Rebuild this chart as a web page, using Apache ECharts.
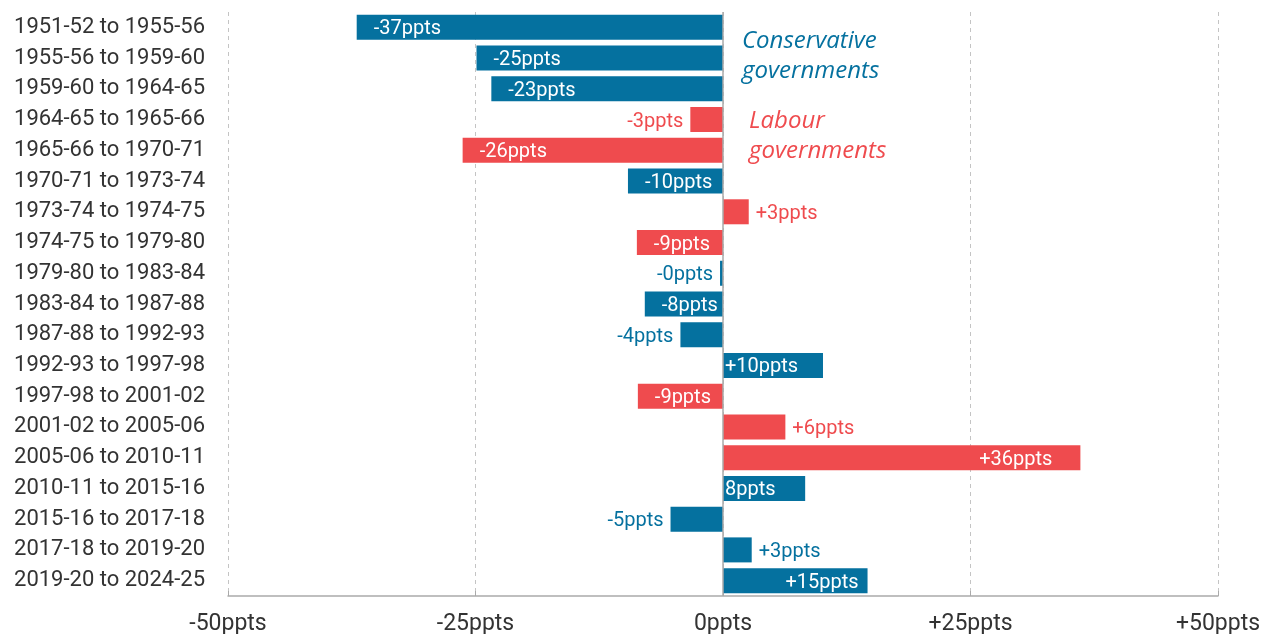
<!DOCTYPE html>
<html>
<head>
<meta charset="utf-8">
<style>
  html, body { margin: 0; padding: 0; background: #fff; }
  #chart { width: 1273px; height: 634px; }
</style>
<script src="https://cdn.jsdelivr.net/npm/echarts@6/dist/echarts.min.js"></script>
</head>
<body>
<div id="chart"></div>
<script>
// Periods between spending reviews / parliaments
const periods = [
  '1951-52 to 1955-56', '1955-56 to 1959-60', '1959-60 to 1964-65',
  '1964-65 to 1965-66', '1965-66 to 1970-71', '1970-71 to 1973-74',
  '1973-74 to 1974-75', '1974-75 to 1979-80', '1979-80 to 1983-84',
  '1983-84 to 1987-88', '1987-88 to 1992-93', '1992-93 to 1997-98',
  '1997-98 to 2001-02', '2001-02 to 2005-06', '2005-06 to 2010-11',
  '2010-11 to 2015-16', '2015-16 to 2017-18', '2017-18 to 2019-20',
  '2019-20 to 2024-25'
];

// Change in percentage points over each period
const changePpts = [
  -37.0, -24.9, -23.4, -3.3, -26.3, -9.6, 2.6, -8.7, -0.3, -7.9,
  -4.3, 10.1, -8.6, 6.3, 36.1, 8.3, -5.3, 2.9, 14.6
];

// Value labels as printed beside each bar
const changeLabels = [
  '-37ppts', '-25ppts', '-23ppts', '-3ppts', '-26ppts', '-10ppts', '+3ppts',
  '-9ppts', '-0ppts', '-8ppts', '-4ppts', '+10ppts', '-9ppts', '+6ppts',
  '+36ppts', '8ppts', '-5ppts', '+3ppts', '+15ppts'
];

// Governing party for each period: C = Conservative, L = Labour
const party = [
  'C', 'C', 'C', 'L', 'L', 'C', 'L', 'L', 'C', 'C',
  'C', 'C', 'L', 'L', 'L', 'C', 'C', 'C', 'C'
];

const xTicks = [-50, -25, 0, 25, 50];

const BLUE = '#05719f';
const RED = '#ef4b4e';
const FONT = 'Roboto, "Noto Sans", sans-serif';

function labelFor(v, i) {
  const col = party[i] === 'C' ? BLUE : RED;
  const inside = Math.abs(v) >= 7;
  let position, distance, color;
  if (inside) {
    color = '#ffffff';
    if (v < 0) { position = 'insideLeft'; distance = 17; }
    else if (v >= 12) { position = 'insideRight'; distance = v > 30 ? 28 : 9; }
    else { position = 'insideLeft'; distance = 2; }
  } else {
    color = col;
    position = v < 0 ? 'left' : 'right';
    distance = 7;
  }
  return {
    show: true, position, distance, color,
    fontFamily: FONT, fontSize: 20, offset: [0, 2],
    formatter: () => changeLabels[i]
  };
}

const barData = changePpts.map((v, i) => ({
  value: v,
  itemStyle: { color: party[i] === 'C' ? BLUE : RED },
  label: labelFor(v, i)
}));

const chart = echarts.init(document.getElementById('chart'));
chart.setOption({
  animation: false,
  backgroundColor: '#ffffff',
  grid: { left: 228, right: 55, top: 12, bottom: 38, outerBoundsMode: 'none', containLabel: false },
  xAxis: {
    type: 'value',
    min: xTicks[0],
    max: xTicks[xTicks.length - 1],
    interval: 25,
    axisLine: { show: true, lineStyle: { color: '#aaaaaa', width: 1.5 } },
    axisTick: { show: true, inside: true, length: 5, lineStyle: { color: '#aaaaaa' } },
    splitLine: { show: true, lineStyle: { color: '#c4c4c4', type: [4, 4], width: 1 } },
    axisLabel: {
      color: '#333333', fontFamily: FONT, fontSize: 23, margin: 17,
      formatter: v => (v > 0 ? '+' : '') + v + 'ppts'
    }
  },
  yAxis: {
    type: 'category',
    data: periods,
    inverse: true,
    axisLine: { show: false },
    axisTick: { show: false },
    axisLabel: { color: '#333333', fontFamily: FONT, fontSize: 22, margin: 23 }
  },
  series: [{
    type: 'bar',
    data: barData,
    barWidth: 25,
    markLine: {
      silent: true,
      symbol: 'none',
      label: { show: false },
      lineStyle: { color: '#aaaaaa', type: 'solid', width: 1.5 },
      data: [{ xAxis: 0 }]
    }
  }],
  graphic: [
    {
      type: 'text', left: 742, top: 26,
      style: {
        text: 'Conservative\ngovernments', fill: BLUE,
        font: 'italic 24px "Open Sans", Lato, sans-serif', lineHeight: 30
      }
    },
    {
      type: 'text', left: 749, top: 106,
      style: {
        text: 'Labour\ngovernments', fill: RED,
        font: 'italic 24px "Open Sans", Lato, sans-serif', lineHeight: 30
      }
    }
  ]
});
</script>
</body>
</html>
